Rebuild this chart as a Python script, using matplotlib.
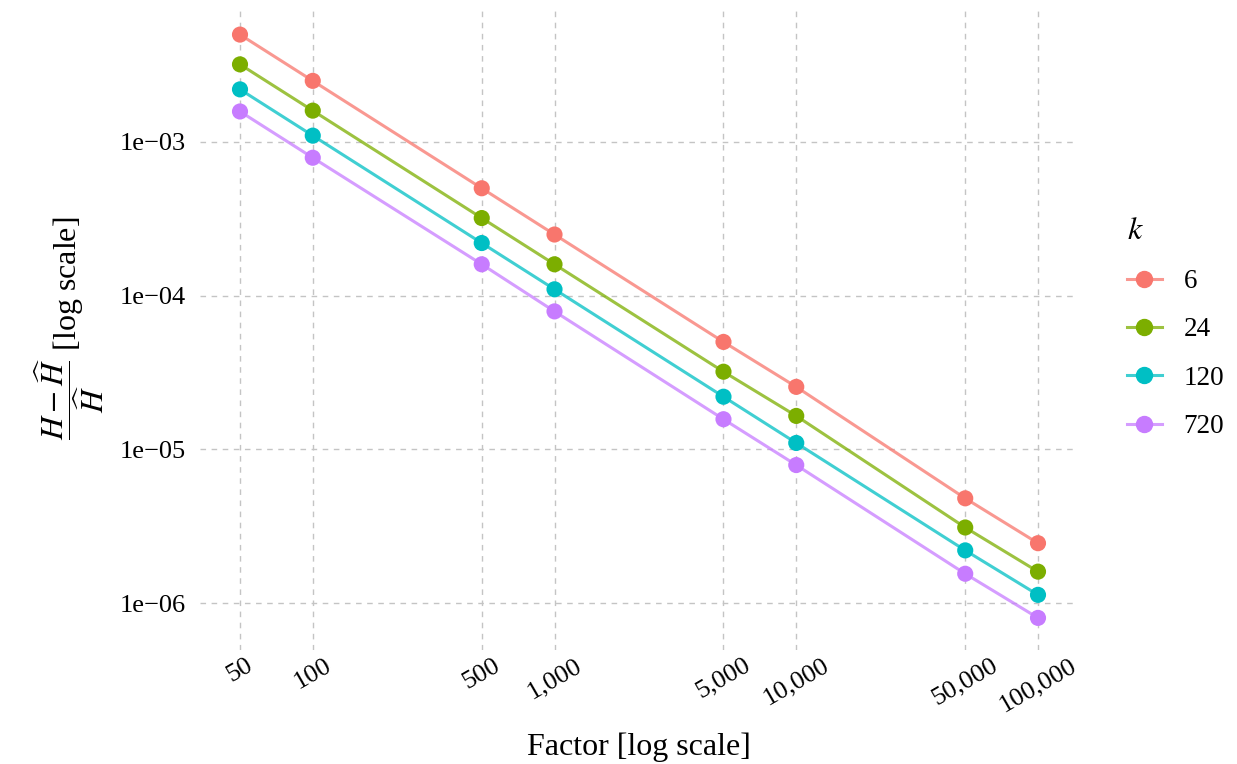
import matplotlib
matplotlib.use("Agg")
import matplotlib.pyplot as plt
from matplotlib.lines import Line2D
from matplotlib.ticker import FixedLocator, FixedFormatter, NullLocator

plt.rcParams['font.family'] = ['Liberation Serif', 'DejaVu Serif']
plt.rcParams['mathtext.fontset'] = 'stix'

factors = [50, 100, 500, 1000, 5000, 10000, 50000, 100000]
factor_labels = ["50", "100", "500", "1,000", "5,000", "10,000", "50,000", "100,000"]
k_levels = ["6", "24", "120", "720"]
err_k6 = [5.0e-3, 2.5e-3, 5.0e-4, 2.5e-4, 5.0e-5, 2.55e-5, 4.8e-6, 2.45e-6]
err_k24 = [3.2e-3, 1.6e-3, 3.2e-4, 1.6e-4, 3.2e-5, 1.65e-5, 3.1e-6, 1.6e-6]
err_k120 = [2.2e-3, 1.1e-3, 2.2e-4, 1.1e-4, 2.2e-5, 1.1e-5, 2.2e-6, 1.13e-6]
err_k720 = [1.58e-3, 7.9e-4, 1.6e-4, 7.9e-5, 1.57e-5, 7.9e-6, 1.55e-6, 8.0e-7]
y_ticks = [1e-3, 1e-4, 1e-5, 1e-6]
y_labels = ["1e\u221203", "1e\u221204", "1e\u221205", "1e\u221206"]
colors = ["#F8766D", "#7CAE00", "#00BFC4", "#C77CFF"]

series = [err_k6, err_k24, err_k120, err_k720]

W, H = 1237, 764
left_px, right_px, top_px, bot_px = 200, 1078, 6, 650
fig = plt.figure(figsize=(W / 100, H / 100), dpi=100)
ax = fig.add_axes([left_px / W, (H - bot_px) / H, (right_px - left_px) / W, (bot_px - top_px) / H])

for vals, col in zip(series, colors):
    ax.plot(factors, vals, color=col, alpha=0.75, lw=2.2, zorder=3)
    ax.scatter(factors, vals, color=col, s=135, zorder=4, edgecolors='none')

ax.set_xscale('log')
ax.set_yscale('log')
# x: 50 -> 240 px, 100000 -> 1038 px
dec_x = (1038 - 240) / 3.30103
ax.set_xlim(10 ** (1.69897 - (240 - left_px) / dec_x), 10 ** (5 + (right_px - 1038) / dec_x))
# y: 1e-3 -> 142 px, 1e-6 -> 603 px
dec_y = (603 - 142) / 3.0
ax.set_ylim(10 ** (-6 - (bot_px - 603) / dec_y), 10 ** (-3 + (142 - top_px) / dec_y))

ax.xaxis.set_major_locator(FixedLocator(factors))
ax.xaxis.set_major_formatter(FixedFormatter(factor_labels))
ax.xaxis.set_minor_locator(NullLocator())
ax.yaxis.set_major_locator(FixedLocator(y_ticks))
ax.yaxis.set_major_formatter(FixedFormatter(y_labels))
ax.yaxis.set_minor_locator(NullLocator())

ax.grid(True, which='major', color='#c4c4c4', linestyle=(0, (4, 4)), lw=1.0, zorder=0)
for s in ax.spines.values():
    s.set_visible(False)
ax.tick_params(axis='both', length=0, labelsize=19, colors='black')
ax.tick_params(axis='y', pad=10)
ax.tick_params(axis='x', pad=3)
for lab in ax.get_xticklabels():
    lab.set_rotation(30)
    lab.set_ha('center')
    lab.set_va('top')

ax.set_xlabel("Factor [log scale]", fontsize=23, labelpad=12)
ax.set_ylabel(r"$\dfrac{H-\widehat{H}}{\widehat{H}}$ [log scale]", fontsize=23, labelpad=10)

handles = []
for c in colors:
    ln = Line2D([0], [0], color=c, lw=2.2, alpha=0.75)
    mk = Line2D([0], [0], color=c, lw=0, marker='o', markersize=11.5,
                markerfacecolor=c, markeredgecolor=c)
    handles.append((ln, mk))
leg = fig.legend(handles, k_levels, title=r"$k$", loc='upper left',
                 bbox_to_anchor=(0.891, 0.748), frameon=False, fontsize=19.5,
                 title_fontsize=23, handlelength=1.3, labelspacing=0.86,
                 handletextpad=0.8)
leg._legend_box.align = "left"

fig.savefig("out.png", dpi=100)
